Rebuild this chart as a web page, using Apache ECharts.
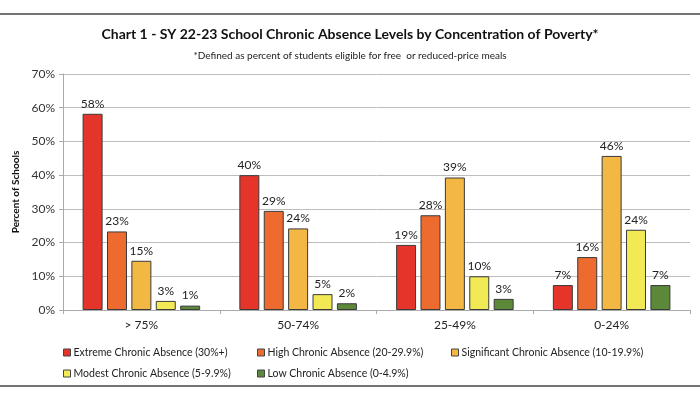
<!DOCTYPE html>
<html><head><meta charset="utf-8">
<script src="https://cdn.jsdelivr.net/npm/echarts@6/dist/echarts.min.js"></script>
<style>html,body{margin:0;padding:0;background:#fff}#c{width:700px;height:400px}</style>
</head><body><div id="c"></div>
<script>
const categories = ['> 75%', '50-74%', '25-49%', '0-24%'];
const seriesNames = ['Extreme Chronic Absence (30%+)', 'High Chronic Absence (20-29.9%)', 'Significant Chronic Absence (10-19.9%)', 'Modest Chronic Absence (5-9.9%)', 'Low Chronic Absence (0-4.9%)'];
const extreme = [58.2, 40.0, 19.3, 7.4];
const high = [23.3, 29.4, 28.1, 15.7];
const significant = [14.6, 24.2, 39.3, 45.7];
const modest = [2.7, 4.7, 10.0, 23.8];
const low = [1.3, 2.0, 3.3, 7.4];
const yTicks = [0, 10, 20, 30, 40, 50, 60, 70];
const colors = ['#E5352A', '#EE6B2F', '#F3B843', '#F1EA55', '#5B8839'];
const allData = [extreme, high, significant, modest, low];

const font = 'Lato, "Open Sans", sans-serif';
const chart = echarts.init(document.getElementById('c'));
const legendPos = [[63, 347], [257, 347], [451, 347], [63, 368], [257, 368]];
chart.setOption({
  animation: false,
  textStyle: { fontFamily: font },
  title: [
    { text: 'Chart 1 - SY 22-23 School Chronic Absence Levels by Concentration of Poverty*', left: 'center', top: 22,
      textStyle: { fontSize: 14, fontWeight: 'bold', color: '#111', fontFamily: font } },
    { text: '*Defined as percent of students eligible for free  or reduced-price meals', left: 'center', top: 46,
      textStyle: { fontSize: 10, fontWeight: 'normal', color: '#222', fontFamily: font } }
  ],
  legend: seriesNames.map((n, i) => ({
    data: [n], left: legendPos[i][0], top: legendPos[i][1], itemWidth: 7, itemHeight: 7, itemGap: 4,
    icon: 'rect', textStyle: { fontSize: 10.5, color: '#222', fontFamily: font, padding: [0, 0, 0, -2] },
    itemStyle: { borderColor: '#444', borderWidth: 1 },
    padding: 0
  })),
  grid: { left: 63, right: 10, top: 74, bottom: 90 },
  xAxis: {
    type: 'category', data: categories,
    axisLine: { lineStyle: { color: '#aaa' } },
    axisTick: { show: true, lineStyle: { color: '#aaa' }, length: 4 },
    axisLabel: { fontSize: 12, color: '#222', margin: 9 }
  },
  yAxis: {
    type: 'value', min: 0, max: 70, interval: 10,
    name: 'Percent of Schools', nameLocation: 'middle', nameGap: 33,
    nameTextStyle: { fontSize: 10, fontWeight: 'bold', color: '#111' },
    axisLine: { show: true, lineStyle: { color: '#aaa' } },
    axisTick: { show: true, lineStyle: { color: '#aaa' }, length: 4 },
    axisLabel: { fontSize: 12, color: '#333', formatter: v => yTicks.includes(v) ? v + '%' : '' },
    splitLine: { lineStyle: { color: '#bdbdbd' } }
  },
  series: seriesNames.map((n, i) => ({
    name: n, type: 'bar', data: allData[i],
    barGap: '22%', barCategoryGap: '25%',
    itemStyle: { color: colors[i], borderColor: '#3a3a3a', borderWidth: 1 },
    label: { show: true, position: 'top', distance: 4, fontSize: 12, color: '#222',
      formatter: p => Math.round(p.value) + '%' }
  })),
  graphic: [
    { type: 'line', shape: { x1: 0, y1: 14, x2: 700, y2: 14 }, style: { stroke: '#444', lineWidth: 1.5 } },
    { type: 'line', shape: { x1: 0, y1: 386, x2: 700, y2: 386 }, style: { stroke: '#444', lineWidth: 1.5 } }
  ]
});
</script></body></html>
